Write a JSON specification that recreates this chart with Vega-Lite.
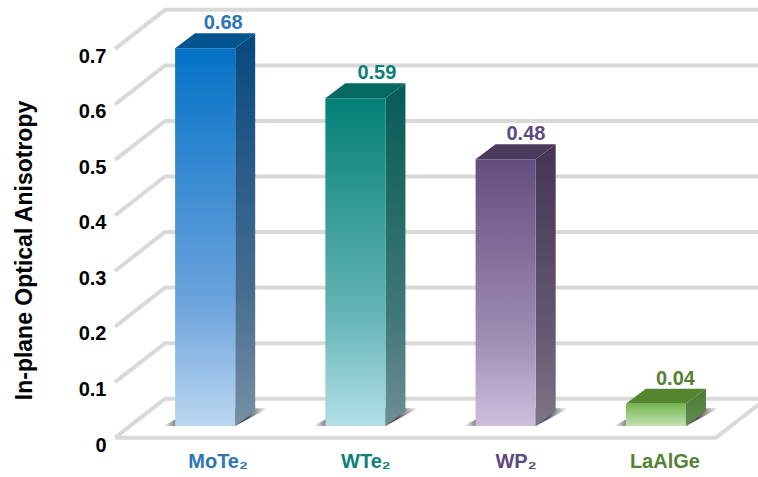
{
  "$schema": "https://vega.github.io/schema/vega-lite/v6.json",
  "width": 758,
  "height": 477,
  "padding": 0,
  "autosize": {"type": "none"},
  "background": "white",
  "config": {
    "view": {"stroke": null},
    "font": "Liberation Sans",
    "axisX": {"disable": true}
  },
  "datasets": {
    "bars": [
      {"name": "MoTe₂", "value": 0.68, "left": 0.4, "right": 0.8, "back": 0.72, "floor": 0.686},
      {"name": "WTe₂", "value": 0.59, "left": 1.4, "right": 1.8, "back": 1.743, "floor": 1.67},
      {"name": "WP₂", "value": 0.48, "left": 2.4, "right": 2.8, "back": 2.735, "floor": 2.669},
      {"name": "LaAlGe", "value": 0.04, "left": 3.4, "right": 3.8, "back": 3.73, "floor": 3.66}
    ],
    "sides": [
      {"name": "MoTe₂", "x": 0.8, "lo": 0, "hi": 0.68},
      {"name": "MoTe₂", "x": 0.933, "lo": 0.027, "hi": 0.707},
      {"name": "WTe₂", "x": 1.8, "lo": 0, "hi": 0.59},
      {"name": "WTe₂", "x": 1.933, "lo": 0.027, "hi": 0.617},
      {"name": "WP₂", "x": 2.8, "lo": 0, "hi": 0.48},
      {"name": "WP₂", "x": 2.933, "lo": 0.027, "hi": 0.507},
      {"name": "LaAlGe", "x": 3.8, "lo": 0, "hi": 0.04},
      {"name": "LaAlGe", "x": 3.933, "lo": 0.027, "hi": 0.067}
    ],
    "tops": [
      {"name": "MoTe₂", "y": 0.68, "x0": 0.4, "x1": 0.8},
      {"name": "MoTe₂", "y": 0.707, "x0": 0.533, "x1": 0.933},
      {"name": "WTe₂", "y": 0.59, "x0": 1.4, "x1": 1.8},
      {"name": "WTe₂", "y": 0.617, "x0": 1.533, "x1": 1.933},
      {"name": "WP₂", "y": 0.48, "x0": 2.4, "x1": 2.8},
      {"name": "WP₂", "y": 0.507, "x0": 2.533, "x1": 2.933},
      {"name": "LaAlGe", "y": 0.04, "x0": 3.4, "x1": 3.8},
      {"name": "LaAlGe", "y": 0.067, "x0": 3.533, "x1": 3.933}
    ],
    "shadows": [
      {"name": "MoTe₂", "y": 0, "x0": 0.32, "x1": 0.8},
      {"name": "MoTe₂", "y": 0.032, "x0": 0.54, "x1": 1.018},
      {"name": "WTe₂", "y": 0, "x0": 1.32, "x1": 1.8},
      {"name": "WTe₂", "y": 0.032, "x0": 1.54, "x1": 2.018},
      {"name": "WP₂", "y": 0, "x0": 2.32, "x1": 2.8},
      {"name": "WP₂", "y": 0.032, "x0": 2.54, "x1": 3.018},
      {"name": "LaAlGe", "y": 0, "x0": 3.32, "x1": 3.8},
      {"name": "LaAlGe", "y": 0.032, "x0": 3.54, "x1": 4.018}
    ],
    "walls": [
      {"line": "0.1", "step": 0, "x": 0, "y": 0.079},
      {"line": "0.1", "step": 1, "x": 0.333, "y": 0.1492},
      {"line": "0.1", "step": 2, "x": 4.333, "y": 0.1492},
      {"line": "0.2", "step": 0, "x": 0, "y": 0.179},
      {"line": "0.2", "step": 1, "x": 0.333, "y": 0.2492},
      {"line": "0.2", "step": 2, "x": 4.333, "y": 0.2492},
      {"line": "0.3", "step": 0, "x": 0, "y": 0.279},
      {"line": "0.3", "step": 1, "x": 0.333, "y": 0.3492},
      {"line": "0.3", "step": 2, "x": 4.333, "y": 0.3492},
      {"line": "0.4", "step": 0, "x": 0, "y": 0.379},
      {"line": "0.4", "step": 1, "x": 0.333, "y": 0.4492},
      {"line": "0.4", "step": 2, "x": 4.333, "y": 0.4492},
      {"line": "0.5", "step": 0, "x": 0, "y": 0.479},
      {"line": "0.5", "step": 1, "x": 0.333, "y": 0.5492},
      {"line": "0.5", "step": 2, "x": 4.333, "y": 0.5492},
      {"line": "0.6", "step": 0, "x": 0, "y": 0.579},
      {"line": "0.6", "step": 1, "x": 0.333, "y": 0.6492},
      {"line": "0.6", "step": 2, "x": 4.333, "y": 0.6492},
      {"line": "0.7", "step": 0, "x": 0, "y": 0.679},
      {"line": "0.7", "step": 1, "x": 0.333, "y": 0.7492},
      {"line": "0.7", "step": 2, "x": 4.333, "y": 0.7492},
      {"line": "floor", "step": 0, "x": 0, "y": -0.021},
      {"line": "floor", "step": 1, "x": 0.333, "y": 0.0492},
      {"line": "floor", "step": 2, "x": 4.333, "y": 0.0492},
      {"line": "floor", "step": 3, "x": 4, "y": -0.021},
      {"line": "floor", "step": 4, "x": 0, "y": -0.021}
    ]
  },
  "layer": [
    {
      "description": "Back wall and floor lines, with the value axis",
      "data": {"name": "walls"},
      "mark": {"type": "line", "stroke": "#d9d9d9", "strokeWidth": 4, "strokeJoin": "miter", "clip": true},
      "encoding": {
        "x": {"field": "x", "type": "quantitative", "scale": {"domain": [-0.7654, 4.2795], "nice": false, "zero": false}},
        "y": {
          "field": "y",
          "type": "quantitative",
          "scale": {"domain": [-0.0918, 0.7669], "nice": false, "zero": false},
          "axis": {
            "title": "In-plane Optical Anisotropy",
            "titleFontSize": 23,
            "titleFontWeight": "bold",
            "titleColor": "#000000",
            "titleX": -87,
            "titleY": 250,
            "titleAngle": -90,
            "titleAlign": "center",
            "titleBaseline": "middle",
            "offset": -111,
            "values": [0, 0.1, 0.2, 0.3, 0.4, 0.5, 0.6, 0.7],
            "labelExpr": "datum.value === 0 ? '0' : format(datum.value, '.1f')",
            "labelOffset": 19,
            "labelPadding": 5,
            "labelFontSize": 20,
            "labelFontWeight": "bold",
            "labelColor": "#000000",
            "labelFlush": false,
            "labelOverlap": false,
            "domain": false,
            "ticks": false,
            "grid": false
          }
        },
        "detail": {"field": "line"},
        "order": {"field": "step", "type": "quantitative"}
      }
    },
    {
      "description": "Soft shadows on the floor",
      "data": {"name": "shadows"},
      "transform": [{"filter": "datum.name === 'MoTe₂'"}],
      "mark": {"type": "area", "orient": "horizontal", "fill": {"gradient": "linear", "x1": 0, "y1": 0, "x2": 1, "y2": 0, "stops": [{"offset": 0, "color": "rgba(80,80,80,0)"}, {"offset": 0.14, "color": "rgba(80,80,80,0.85)"}, {"offset": 0.8, "color": "rgba(60,60,60,0.9)"}, {"offset": 1, "color": "rgba(80,80,80,0)"}]}},
      "encoding": {
        "y": {"field": "y", "type": "quantitative"},
        "x": {"field": "x0", "type": "quantitative"},
        "x2": {"field": "x1"}
      }
    },
    {
      "data": {"name": "shadows"},
      "transform": [{"filter": "datum.name === 'WTe₂'"}],
      "mark": {"type": "area", "orient": "horizontal", "fill": {"gradient": "linear", "x1": 0, "y1": 0, "x2": 1, "y2": 0, "stops": [{"offset": 0, "color": "rgba(80,80,80,0)"}, {"offset": 0.14, "color": "rgba(80,80,80,0.85)"}, {"offset": 0.8, "color": "rgba(60,60,60,0.9)"}, {"offset": 1, "color": "rgba(80,80,80,0)"}]}},
      "encoding": {
        "y": {"field": "y", "type": "quantitative"},
        "x": {"field": "x0", "type": "quantitative"},
        "x2": {"field": "x1"}
      }
    },
    {
      "data": {"name": "shadows"},
      "transform": [{"filter": "datum.name === 'WP₂'"}],
      "mark": {"type": "area", "orient": "horizontal", "fill": {"gradient": "linear", "x1": 0, "y1": 0, "x2": 1, "y2": 0, "stops": [{"offset": 0, "color": "rgba(80,80,80,0)"}, {"offset": 0.14, "color": "rgba(80,80,80,0.85)"}, {"offset": 0.8, "color": "rgba(60,60,60,0.9)"}, {"offset": 1, "color": "rgba(80,80,80,0)"}]}},
      "encoding": {
        "y": {"field": "y", "type": "quantitative"},
        "x": {"field": "x0", "type": "quantitative"},
        "x2": {"field": "x1"}
      }
    },
    {
      "data": {"name": "shadows"},
      "transform": [{"filter": "datum.name === 'LaAlGe'"}],
      "mark": {"type": "area", "orient": "horizontal", "fill": {"gradient": "linear", "x1": 0, "y1": 0, "x2": 1, "y2": 0, "stops": [{"offset": 0, "color": "rgba(80,80,80,0)"}, {"offset": 0.14, "color": "rgba(80,80,80,0.85)"}, {"offset": 0.8, "color": "rgba(60,60,60,0.9)"}, {"offset": 1, "color": "rgba(80,80,80,0)"}]}},
      "encoding": {
        "y": {"field": "y", "type": "quantitative"},
        "x": {"field": "x0", "type": "quantitative"},
        "x2": {"field": "x1"}
      }
    },
    {
      "description": "MoTe2 side, top and front faces",
      "data": {"name": "sides"},
      "transform": [{"filter": "datum.name === 'MoTe₂'"}],
      "mark": {"type": "area", "fill": {"gradient": "linear", "x1": 0, "y1": 0, "x2": 0, "y2": 1, "stops": [{"offset": 0, "color": "#07487f"}, {"offset": 0.67, "color": "#486e90"}, {"offset": 1, "color": "#7890a5"}]}},
      "encoding": {"x": {"field": "x", "type": "quantitative"}, "y": {"field": "hi", "type": "quantitative"}, "y2": {"field": "lo"}}
    },
    {
      "data": {"name": "tops"},
      "transform": [{"filter": "datum.name === 'MoTe₂'"}],
      "mark": {"type": "area", "orient": "horizontal", "fill": "#04558f"},
      "encoding": {"y": {"field": "y", "type": "quantitative"}, "x": {"field": "x0", "type": "quantitative"}, "x2": {"field": "x1"}}
    },
    {
      "data": {"name": "bars"},
      "transform": [{"filter": "datum.name === 'MoTe₂'"}],
      "mark": {"type": "rect", "fill": {"gradient": "linear", "x1": 0, "y1": 0, "x2": 0, "y2": 1, "stops": [{"offset": 0, "color": "#0472c6"}, {"offset": 0.67, "color": "#6ba3dc"}, {"offset": 1, "color": "#bcd7f0"}]}},
      "encoding": {"x": {"field": "left", "type": "quantitative"}, "x2": {"field": "right"}, "y": {"field": "value", "type": "quantitative"}, "y2": {"datum": 0}}
    },
    {
      "description": "WTe2 side, top and front faces",
      "data": {"name": "sides"},
      "transform": [{"filter": "datum.name === 'WTe₂'"}],
      "mark": {"type": "area", "fill": {"gradient": "linear", "x1": 0, "y1": 0, "x2": 0, "y2": 1, "stops": [{"offset": 0, "color": "#045c56"}, {"offset": 0.67, "color": "#3e7779"}, {"offset": 1, "color": "#6f8e96"}]}},
      "encoding": {"x": {"field": "x", "type": "quantitative"}, "y": {"field": "hi", "type": "quantitative"}, "y2": {"field": "lo"}}
    },
    {
      "data": {"name": "tops"},
      "transform": [{"filter": "datum.name === 'WTe₂'"}],
      "mark": {"type": "area", "orient": "horizontal", "fill": "#066a62"},
      "encoding": {"y": {"field": "y", "type": "quantitative"}, "x": {"field": "x0", "type": "quantitative"}, "x2": {"field": "x1"}}
    },
    {
      "data": {"name": "bars"},
      "transform": [{"filter": "datum.name === 'WTe₂'"}],
      "mark": {"type": "rect", "fill": {"gradient": "linear", "x1": 0, "y1": 0, "x2": 0, "y2": 1, "stops": [{"offset": 0, "color": "#038077"}, {"offset": 0.67, "color": "#66b6b6"}, {"offset": 1, "color": "#b3e0e8"}]}},
      "encoding": {"x": {"field": "left", "type": "quantitative"}, "x2": {"field": "right"}, "y": {"field": "value", "type": "quantitative"}, "y2": {"datum": 0}}
    },
    {
      "description": "WP2 side, top and front faces",
      "data": {"name": "sides"},
      "transform": [{"filter": "datum.name === 'WP₂'"}],
      "mark": {"type": "area", "fill": {"gradient": "linear", "x1": 0, "y1": 0, "x2": 0, "y2": 1, "stops": [{"offset": 0, "color": "#443552"}, {"offset": 0.67, "color": "#645972"}, {"offset": 1, "color": "#7d7587"}]}},
      "encoding": {"x": {"field": "x", "type": "quantitative"}, "y": {"field": "hi", "type": "quantitative"}, "y2": {"field": "lo"}}
    },
    {
      "data": {"name": "tops"},
      "transform": [{"filter": "datum.name === 'WP₂'"}],
      "mark": {"type": "area", "orient": "horizontal", "fill": "#4c3a5c"},
      "encoding": {"y": {"field": "y", "type": "quantitative"}, "x": {"field": "x0", "type": "quantitative"}, "x2": {"field": "x1"}}
    },
    {
      "data": {"name": "bars"},
      "transform": [{"filter": "datum.name === 'WP₂'"}],
      "mark": {"type": "rect", "fill": {"gradient": "linear", "x1": 0, "y1": 0, "x2": 0, "y2": 1, "stops": [{"offset": 0, "color": "#644d7f"}, {"offset": 0.67, "color": "#9f8db3"}, {"offset": 1, "color": "#cdbfdc"}]}},
      "encoding": {"x": {"field": "left", "type": "quantitative"}, "x2": {"field": "right"}, "y": {"field": "value", "type": "quantitative"}, "y2": {"datum": 0}}
    },
    {
      "description": "LaAlGe side, top and front faces",
      "data": {"name": "sides"},
      "transform": [{"filter": "datum.name === 'LaAlGe'"}],
      "mark": {"type": "area", "fill": {"gradient": "linear", "x1": 0, "y1": 0, "x2": 0, "y2": 1, "stops": [{"offset": 0, "color": "#4c7a30"}, {"offset": 1, "color": "#638b54"}]}},
      "encoding": {"x": {"field": "x", "type": "quantitative"}, "y": {"field": "hi", "type": "quantitative"}, "y2": {"field": "lo"}}
    },
    {
      "data": {"name": "tops"},
      "transform": [{"filter": "datum.name === 'LaAlGe'"}],
      "mark": {"type": "area", "orient": "horizontal", "fill": "#548630"},
      "encoding": {"y": {"field": "y", "type": "quantitative"}, "x": {"field": "x0", "type": "quantitative"}, "x2": {"field": "x1"}}
    },
    {
      "data": {"name": "bars"},
      "transform": [{"filter": "datum.name === 'LaAlGe'"}],
      "mark": {"type": "rect", "fill": {"gradient": "linear", "x1": 0, "y1": 0, "x2": 0, "y2": 1, "stops": [{"offset": 0, "color": "#76b551"}, {"offset": 1, "color": "#c4e2b4"}]}},
      "encoding": {"x": {"field": "left", "type": "quantitative"}, "x2": {"field": "right"}, "y": {"field": "value", "type": "quantitative"}, "y2": {"datum": 0}}
    },
    {
      "description": "Value labels above each bar",
      "data": {"name": "bars"},
      "mark": {"type": "text", "fontSize": 20, "fontWeight": "bold", "dy": -25, "baseline": "middle", "align": "center"},
      "encoding": {
        "x": {"field": "back", "type": "quantitative"},
        "y": {"field": "value", "type": "quantitative"},
        "text": {"field": "value", "type": "quantitative", "format": ".2f"},
        "color": {"field": "name", "type": "nominal", "legend": null, "scale": {"domain": ["MoTe₂", "WTe₂", "WP₂", "LaAlGe"], "range": ["#2e75b6", "#0b807a", "#5a4a7f", "#548235"]}}
      }
    },
    {
      "description": "Material names under the floor",
      "data": {"name": "bars"},
      "mark": {"type": "text", "fontSize": 20, "fontWeight": "bold", "baseline": "middle", "align": "center"},
      "encoding": {
        "x": {"field": "floor", "type": "quantitative"},
        "y": {"datum": -0.065},
        "text": {"field": "name"},
        "color": {"field": "name", "type": "nominal", "legend": null}
      }
    }
  ]
}
